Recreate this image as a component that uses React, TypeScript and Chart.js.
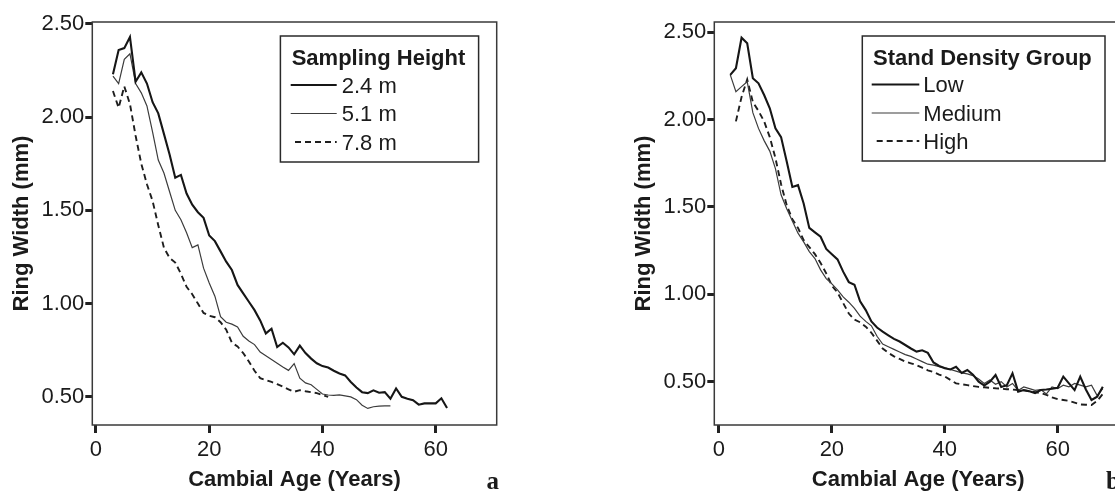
import React, { useEffect, useRef } from 'react';
import { Chart, registerables } from 'chart.js';

Chart.register(...registerables);

// ---------- data: panel a (sampling height) ----------
const ageA = [3, 4, 5, 6, 7, 8, 9, 10, 11, 12, 13, 14, 15, 16, 17, 18, 19, 20, 21, 22, 23, 24, 25, 26, 27, 28, 29, 30, 31, 32, 33, 34, 35, 36, 37, 38, 39, 40, 41, 42, 43, 44, 45, 46, 47, 48, 49, 50, 51, 52, 53, 54, 55, 56, 57, 58, 59, 60, 61, 62];
const ring24 = [2.23, 2.36, 2.37, 2.43, 2.19, 2.24, 2.18, 2.08, 2.02, 1.91, 1.80, 1.675, 1.69, 1.59, 1.53, 1.49, 1.46, 1.365, 1.335, 1.28, 1.225, 1.18, 1.10, 1.055, 1.01, 0.965, 0.91, 0.84, 0.865, 0.767, 0.79, 0.765, 0.728, 0.775, 0.735, 0.705, 0.68, 0.665, 0.657, 0.64, 0.625, 0.615, 0.58, 0.55, 0.525, 0.52, 0.535, 0.522, 0.525, 0.49, 0.545, 0.50, 0.49, 0.482, 0.458, 0.465, 0.465, 0.465, 0.492, 0.44];
const ring51 = [2.22, 2.18, 2.31, 2.34, 2.18, 2.13, 2.06, 1.92, 1.77, 1.70, 1.60, 1.50, 1.45, 1.38, 1.30, 1.315, 1.19, 1.11, 1.04, 0.93, 0.90, 0.89, 0.875, 0.825, 0.80, 0.78, 0.74, 0.72, 0.70, 0.68, 0.66, 0.642, 0.678, 0.60, 0.575, 0.565, 0.54, 0.515, 0.51, 0.508, 0.51, 0.505, 0.50, 0.485, 0.455, 0.438, 0.447, 0.45, 0.452, 0.452];
const ring78 = [2.14, 2.05, 2.165, 2.07, 1.90, 1.75, 1.64, 1.55, 1.42, 1.30, 1.245, 1.22, 1.16, 1.09, 1.05, 1.00, 0.95, 0.935, 0.927, 0.90, 0.86, 0.79, 0.77, 0.735, 0.69, 0.64, 0.60, 0.59, 0.58, 0.568, 0.555, 0.54, 0.527, 0.536, 0.53, 0.525, 0.52, 0.51, 0.50];

// ---------- data: panel b (stand density) ----------
const ageB = [2, 3, 4, 5, 6, 7, 8, 9, 10, 11, 12, 13, 14, 15, 16, 17, 18, 19, 20, 21, 22, 23, 24, 25, 26, 27, 28, 29, 30, 31, 32, 33, 34, 35, 36, 37, 38, 39, 40, 41, 42, 43, 44, 45, 46, 47, 48, 49, 50, 51, 52, 53, 54, 55, 56, 57, 58, 59, 60, 61, 62, 63, 64, 65, 66, 67, 68];
const lowB = [2.256, 2.294, 2.469, 2.437, 2.237, 2.208, 2.141, 2.065, 1.95, 1.90, 1.76, 1.615, 1.625, 1.52, 1.38, 1.355, 1.33, 1.26, 1.23, 1.20, 1.13, 1.07, 1.055, 0.96, 0.91, 0.845, 0.81, 0.786, 0.765, 0.745, 0.73, 0.71, 0.69, 0.672, 0.68, 0.665, 0.61, 0.59, 0.577, 0.57, 0.585, 0.55, 0.567, 0.54, 0.50, 0.478, 0.50, 0.538, 0.47, 0.48, 0.548, 0.443, 0.452, 0.445, 0.435, 0.452, 0.455, 0.46, 0.465, 0.529, 0.49, 0.452, 0.529, 0.455, 0.395, 0.414, 0.471];
const medB = [2.256, 2.16, 2.189, 2.217, 2.04, 1.95, 1.88, 1.82, 1.72, 1.57, 1.49, 1.42, 1.35, 1.30, 1.245, 1.205, 1.14, 1.09, 1.06, 1.025, 0.985, 0.955, 0.92, 0.875, 0.845, 0.82, 0.76, 0.715, 0.70, 0.685, 0.67, 0.655, 0.645, 0.63, 0.615, 0.60, 0.595, 0.586, 0.58, 0.57, 0.56, 0.55, 0.545, 0.535, 0.515, 0.49, 0.51, 0.485, 0.50, 0.47, 0.49, 0.45, 0.47, 0.46, 0.45, 0.455, 0.43, 0.47, 0.46, 0.48, 0.47, 0.49, 0.48, 0.47, 0.48, 0.42, 0.46];
const highB = [null, 1.99, 2.13, 2.23, 2.10, 2.05, 1.99, 1.90, 1.78, 1.63, 1.51, 1.43, 1.38, 1.31, 1.27, 1.23, 1.18, 1.12, 1.05, 1.01, 0.95, 0.89, 0.855, 0.84, 0.815, 0.78, 0.735, 0.69, 0.665, 0.645, 0.63, 0.615, 0.605, 0.595, 0.58, 0.565, 0.555, 0.54, 0.53, 0.51, 0.49, 0.485, 0.48, 0.475, 0.47, 0.468, 0.465, 0.462, 0.46, 0.457, 0.455, 0.452, 0.45, 0.445, 0.44, 0.435, 0.425, 0.41, 0.40, 0.395, 0.39, 0.38, 0.37, 0.368, 0.366, 0.39, 0.43];

// ---------- ticks & labels ----------
const xTicks = [0, 20, 40, 60];
const yTicks = [0.5, 1.0, 1.5, 2.0, 2.5];
const xTitle = 'Cambial Age (Years)';
const yTitle = 'Ring Width (mm)';
const legendTitleA = 'Sampling Height';
const seriesLabelsA = ['2.4 m', '5.1 m', '7.8 m'];
const legendTitleB = 'Stand Density Group';
const seriesLabelsB = ['Low', 'Medium', 'High'];

const SANS = "'Liberation Sans', Arial, Helvetica, sans-serif";
const INK = '#1b1b1b';

const seriesStyles = [
  { borderWidth: 2.1, borderColor: '#161616', borderDash: [] as number[] },
  { borderWidth: 1.2, borderColor: '#3c3c3c', borderDash: [] as number[] },
  { borderWidth: 1.9, borderColor: '#1e1e1e', borderDash: [6, 4] },
];

function toPoints(ages: number[], vals: (number | null)[]) {
  const out: { x: number; y: number }[] = [];
  vals.forEach((v, i) => {
    if (v !== null) out.push({ x: ages[i], y: v });
  });
  return out;
}

const framePlugin = {
  id: 'frameLegend',
  afterDraw(chart: any, _args: any, opts: any) {
    const { ctx, chartArea } = chart;
    const { left, top, right, bottom } = chartArea;
    ctx.save();
    // frame
    ctx.strokeStyle = '#3a3a3a';
    ctx.lineWidth = 1.5;
    ctx.setLineDash([]);
    ctx.strokeRect(left, top, right - left, bottom - top);

    // legend box
    const L = opts.legend;
    ctx.lineWidth = 1.5;
    ctx.strokeStyle = '#2a2a2a';
    ctx.strokeRect(L.x, L.y, L.w, L.h);
    ctx.fillStyle = INK;
    ctx.textBaseline = 'middle';
    ctx.textAlign = 'left';
    ctx.font = `bold 22px ${SANS}`;
    ctx.fillText(L.title, L.titleX, L.titleY);
    ctx.font = `22px ${SANS}`;
    L.labels.forEach((lab: string, i: number) => {
      const st = seriesStyles[i];
      const y = L.rowY[i];
      ctx.beginPath();
      ctx.lineWidth = st.borderWidth;
      ctx.strokeStyle = st.borderColor;
      ctx.setLineDash(st.borderDash);
      const x0 = i === 2 ? L.dashX0 : L.lineX0;
      ctx.moveTo(x0, y - 1.5);
      ctx.lineTo(L.lineX1, y - 1.5);
      ctx.stroke();
      ctx.setLineDash([]);
      ctx.fillText(lab, L.textX, y);
    });

    // panel letter
    ctx.font = `bold 25px 'Liberation Serif', 'Times New Roman', serif`;
    ctx.textBaseline = 'alphabetic';
    ctx.fillText(opts.letter, opts.letterX, opts.letterY);
    ctx.restore();
  },
};

type PanelProps = {
  left: number;
  width: number;
  ages: number[];
  series: (number | null)[][];
  labels: string[];
  xMin: number;
  xMax: number;
  yMin: number;
  yMax: number;
  plotLeft: number;
  plotRight: number;
  yTitleOffset: number;
  legend: any;
  letter: string;
  letterX: number;
};

function Panel(p: PanelProps) {
  const ref = useRef<HTMLCanvasElement | null>(null);
  useEffect(() => {
    if (!ref.current) return;
    const H = 491;
    const chart = new Chart(ref.current, {
      type: 'line',
      data: {
        datasets: p.series.map((vals, i) => ({
          label: p.labels[i],
          data: toPoints(p.ages, vals),
          borderColor: seriesStyles[i].borderColor,
          borderWidth: seriesStyles[i].borderWidth,
          borderDash: seriesStyles[i].borderDash,
          pointRadius: 0,
          tension: 0,
          fill: false,
        })),
      },
      options: {
        animation: false,
        responsive: false,
        devicePixelRatio: 1,
        layout: { padding: { top: 22, right: p.width - p.plotRight, bottom: 0, left: 0 } },
        plugins: {
          legend: { display: false },
          tooltip: { enabled: false },
          frameLegend: { legend: p.legend, letter: p.letter, letterX: p.letterX, letterY: 489 },
        } as any,
        scales: {
          x: {
            type: 'linear',
            min: p.xMin,
            max: p.xMax,
            afterBuildTicks: (s: any) => {
              s.ticks = xTicks.map((v) => ({ value: v }));
            },
            afterFit: (s: any) => {
              s.height = H - 425;
            },
            grid: { drawOnChartArea: false, drawTicks: true, tickLength: 8, tickWidth: 3, tickColor: '#222' },
            border: { display: false },
            ticks: {
              color: INK,
              padding: 6,
              maxRotation: 0,
              font: { family: SANS, size: 22, lineHeight: 1 },
              callback: (v: any) => String(v),
            },
            title: {
              display: true,
              text: xTitle,
              color: INK,
              font: { family: SANS, size: 22, weight: 'bold', lineHeight: 1 },
              padding: { top: 0, bottom: 0 },
            },
          },
          y: {
            type: 'linear',
            min: p.yMin,
            max: p.yMax,
            afterBuildTicks: (s: any) => {
              s.ticks = yTicks.map((v) => ({ value: v }));
            },
            afterFit: (s: any) => {
              s.width = p.plotLeft;
            },
            grid: { drawOnChartArea: false, drawTicks: true, tickLength: 7, tickWidth: 3, tickColor: '#222' },
            border: { display: false },
            ticks: {
              color: INK,
              padding: 1,
              font: { family: SANS, size: 22, lineHeight: 1 },
              callback: (v: any) => Number(v).toFixed(2),
            },
            title: {
              display: true,
              text: yTitle,
              color: INK,
              font: { family: SANS, size: 22, weight: 'bold', lineHeight: 1 },
              padding: { top: p.yTitleOffset - 11, bottom: 0 },
            },
          },
        },
      },
      plugins: [framePlugin],
    } as any);
    return () => chart.destroy();
  }, []);
  return (
    <canvas
      ref={ref}
      width={p.width}
      height={491}
      style={{ position: 'absolute', left: p.left, top: 0, width: p.width, height: 491 }}
    />
  );
}

export default function App() {
  return (
    <div
      style={{
        position: 'fixed',
        left: 0,
        top: 0,
        width: 1115,
        height: 491,
        overflow: 'hidden',
        background: '#ffffff',
      }}
    >
      <Panel
        left={0}
        width={560}
        ages={ageA}
        series={[ring24, ring51, ring78]}
        labels={seriesLabelsA}
        xMin={-0.65}
        xMax={70.77}
        yMin={0.349}
        yMax={2.51}
        plotLeft={92.3}
        plotRight={496.7}
        yTitleOffset={21.5}
        legend={{
          x: 280.4, y: 36, w: 198.2, h: 126,
          title: legendTitleA, titleX: 291.7, titleY: 58.5,
          labels: seriesLabelsA, rowY: [86.5, 115, 143.5],
          lineX0: 290.7, dashX0: 295, lineX1: 336.7, textX: 341.7,
        }}
        letter="a"
        letterX={486.5}
      />
      <Panel
        left={600}
        width={540}
        ages={ageB}
        series={[lowB, medB, highB]}
        labels={seriesLabelsB}
        xMin={-0.83}
        xMax={71.4}
        yMin={0.252}
        yMax={2.559}
        plotLeft={114.3}
        plotRight={522}
        yTitleOffset={44}
        legend={{
          x: 262.3, y: 36, w: 242.7, h: 125,
          title: legendTitleB, titleX: 273, titleY: 58.5,
          labels: seriesLabelsB, rowY: [86, 114.5, 142.5],
          lineX0: 271.7, dashX0: 276.7, lineX1: 319.3, textX: 323.3,
        }}
        letter="b"
        letterX={506}
      />
    </div>
  );
}
